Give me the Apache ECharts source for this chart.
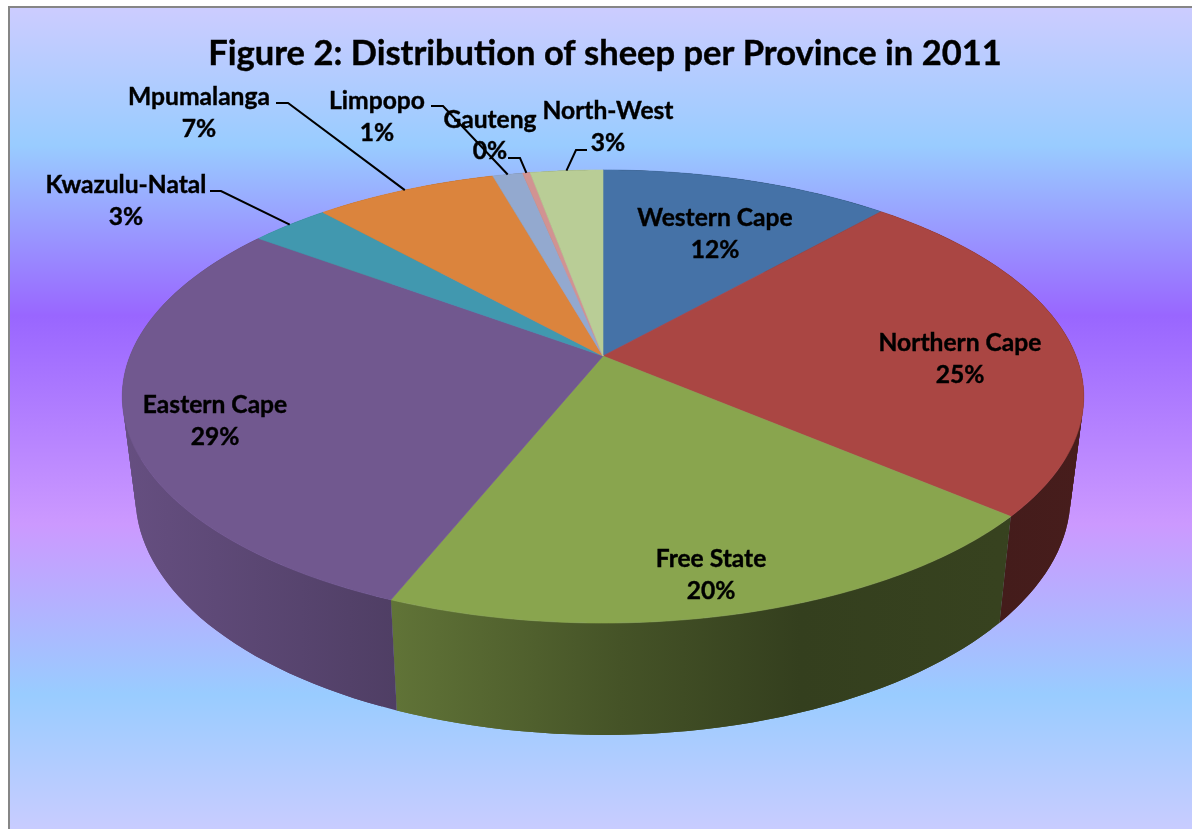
<!DOCTYPE html>
<html>
<head>
<meta charset="utf-8">
<style>html,body{margin:0;padding:0;background:#fff}#c{width:1192px;height:829px}</style>
<script src="https://cdn.jsdelivr.net/npm/echarts@6/dist/echarts.min.js"></script>
</head>
<body>
<div id="c"></div>
<script>
const titleText = 'Figure 2: Distribution of sheep per Province in 2011';
const categories = ['Western Cape','Northern Cape','Free State','Eastern Cape','Kwazulu-Natal','Mpumalanga','Limpopo','Gauteng','North-West'];
const shares = [11.6,24.6,19.9,29.0,3.2,7.3,1.2,0.3,2.9];
const colors = ['#4572a7','#aa4643','#89a54e','#71588f','#4198af','#db843d','#93a9cf','#d19392','#b9cd96'];

// Layout: centre of each two-line label (x, name y, percent y)
const labelAt = [[715,218,250],[960,343,375],[711,559,591],[215,405,437],[126,185,217],[199,97,129],[377,101,133],[490,120,151],[608,111,143]];
// Leader line start and elbow, the far end follows the slice
const leaderAt = [null,null,null,null,[[210,191],[221,191]],[[276,103],[288,103]],[[431,106],[443,106]],[[508,158],[520,158]],[[587,150],[576,150]]];

// Projection of the tilted disc
const CX = 603, K = 0.1788;
const TOP = {x:473, y:219.3, y0:356};
const BOT = {x:460, y:231, y0:453.6};
function project(rim, theta) {
  const s = Math.sin(theta), c = Math.cos(theta), w = 1 + K*c;
  return [CX + rim.x*s/w, rim.y0 - rim.y*c/w];
}
const total = shares.reduce((a,b)=>a+b,0);
const bounds = [0];
shares.forEach((v,i)=>bounds.push(bounds[i]+v/total*Math.PI*2));
function angles(a0, a1, step) {
  const n = Math.max(2, Math.ceil((a1-a0)/step)), out = [];
  for (let j=0;j<=n;j++) out.push(a0+(a1-a0)*j/n);
  return out;
}
function shade(hex, m) {
  const n = parseInt(hex.slice(1),16);
  const f = v => Math.round(v*m);
  return 'rgb('+f(n>>16&255)+','+f(n>>8&255)+','+f(n&255)+')';
}
const wallStops = [[120,.90],[397,.70],[620,.50],[800,.38],[1000,.40],[1085,.42]];
function wallFill(hex) {
  const a = wallStops[0][0], b = wallStops[wallStops.length-1][0];
  return new echarts.graphic.LinearGradient(a,0,b,0,
    wallStops.map(s=>({offset:(s[0]-a)/(b-a), color:shade(hex,s[1])})), true);
}
const rows = categories.map((n,i)=>[i, shares[i]]);
const font = 'bold 24.6px Lato, "Liberation Sans", sans-serif';
const black = '#000';

const chart = echarts.init(document.getElementById('c'), null, {renderer:'canvas'});
chart.setOption({
  animation:false,
  backgroundColor:'#fff',
  title:{text:titleText, left:600, top:31, textAlign:'center',
    textStyle:{fontFamily:'Lato',fontWeight:'bold',fontSize:34.5,color:black,textBorderColor:black,textBorderWidth:.4}},
  graphic:[{type:'rect', z:0, silent:true,
    shape:{x:9,y:7,width:1400,height:1000},
    style:{stroke:'#868686',lineWidth:2,
      fill:new echarts.graphic.LinearGradient(0,8,0,840,[
        {offset:0,color:'#ccccff'},
        {offset:.165,color:'#99ccff'},
        {offset:.37,color:'#9966ff'},
        {offset:.62,color:'#cc99ff'},
        {offset:.825,color:'#99ccff'},
        {offset:1,color:'#ccccff'}],true)}}],
  series:[
    {type:'custom', coordinateSystem:'none', z:2, silent:true, data:rows,
      renderItem(p, api){
        const i = api.value(0), as = angles(bounds[i],bounds[i+1],0.03);
        const fill = wallFill(colors[i]), kids = [];
        for (let j=0;j<as.length-1;j++) {
          const far = as[Math.min(j+2,as.length-1)];
          kids.push({type:'polygon', shape:{points:[
            project(TOP,as[j]),project(TOP,(as[j]+far)/2),project(TOP,far),
            project(BOT,far),project(BOT,(as[j]+far)/2),project(BOT,as[j])]},
            style:{fill}});
        }
        return {type:'group', children:kids};
      }},
    {type:'custom', coordinateSystem:'none', z:3, silent:true, data:rows,
      renderItem(p, api){
        const i = api.value(0);
        const pts = [[CX,TOP.y0]].concat(angles(bounds[i],bounds[i+1],0.012).map(a=>project(TOP,a)));
        return {type:'polygon', shape:{points:pts}, style:{fill:colors[i], stroke:colors[i], lineWidth:.6}};
      }},
    {type:'custom', coordinateSystem:'none', z:4, silent:true, data:rows,
      renderItem(p, api){
        const i = api.value(0), at = labelAt[i], kids = [];
        if (leaderAt[i]) {
          const end = project(TOP,(bounds[i]+bounds[i+1])/2);
          kids.push({type:'polyline', shape:{points:leaderAt[i].concat([end])},
            style:{stroke:black,lineWidth:2,fill:null}});
        }
        const base = {textAlign:'center',textVerticalAlign:'middle',font,fill:black,stroke:black,lineWidth:.4};
        kids.push({type:'text', style:Object.assign({text:categories[i],x:at[0],y:at[1]},base)});
        kids.push({type:'text', style:Object.assign({text:Math.round(api.value(1))+'%',x:at[0],y:at[2]},base)});
        return {type:'group', children:kids};
      }}
  ]
});
</script>
</body>
</html>
